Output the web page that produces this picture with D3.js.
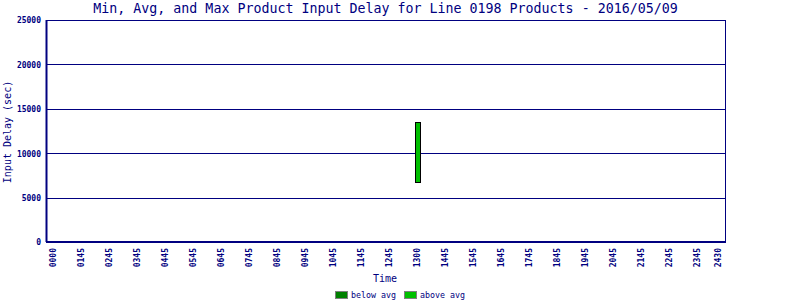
<!DOCTYPE html>
<html>
<head>
<meta charset="utf-8">
<script src="https://cdn.jsdelivr.net/npm/d3@7"></script>
<style>
  body { margin: 0; background: #fff; }
  text { font-family: "DejaVu Sans Mono", "Liberation Mono", monospace; fill: #000080; }
</style>
</head>
<body>
<svg width="800" height="300"></svg>
<script>
// tick labels along the time axis and their slot positions
const xTickLabels = ["0000", "0145", "0245", "0345", "0445", "0545", "0645", "0745", "0845",
    "0945", "1045", "1145", "1245", "1300", "1445", "1545", "1645", "1745", "1845",
    "1945", "2045", "2145", "2245", "2345", "2430"];
const xTickSlots = [0, 1, 2, 3, 4, 5, 6, 7, 8, 9, 10, 11, 12, 13, 14, 15, 16, 17, 18,
    19, 20, 21, 22, 23, 23.75];

const yTicks = [0, 5000, 10000, 15000, 20000, 25000];

// one product group recorded that day
const barSlots = [13];
const minDelay = [6700];
const avgDelay = [6700];
const maxDelay = [13500];

const svg = d3.select("svg"),
    margin = {top: 20, right: 75, bottom: 58, left: 46},
    width = +svg.attr("width") - margin.left - margin.right,
    height = +svg.attr("height") - margin.top - margin.bottom;

const navy = "#000080";

const x = d3.scaleLinear().domain([-0.25, 24]).range([0, width]);
const y = d3.scaleLinear().domain([0, 25000]).range([height, 0]);

const g = svg.append("g").attr("transform", `translate(${margin.left},${margin.top})`);

// title
svg.append("text")
    .attr("x", margin.left + width / 2)
    .attr("y", 13)
    .attr("text-anchor", "middle")
    .style("font-size", "13.3px")
    .text("Min, Avg, and Max Product Input Delay for Line 0198 Products - 2016/05/09");

// grid lines
g.append("g")
    .selectAll("line")
    .data(yTicks.filter(d => d > 0 && d < 25000))
    .enter().append("line")
    .attr("x1", 0)
    .attr("x2", width)
    .attr("y1", d => Math.round(y(d)) + 0.5)
    .attr("y2", d => Math.round(y(d)) + 0.5)
    .attr("stroke", navy)
    .attr("stroke-width", 1);

// bars: below avg part and above avg part
const bars = g.append("g");
barSlots.forEach((s, i) => {
    const cx = Math.round(x(s)) + 1;
    bars.append("rect")
        .attr("x", cx - 2.5)
        .attr("width", 5)
        .attr("y", Math.round(y(avgDelay[i])) + 0.5)
        .attr("height", Math.max(0, y(minDelay[i]) - y(avgDelay[i])))
        .attr("fill", "#008000")
        .attr("stroke", "#000")
        .attr("stroke-width", 1);
    bars.append("rect")
        .attr("x", cx - 2.5)
        .attr("width", 5)
        .attr("y", Math.round(y(maxDelay[i])) + 0.5)
        .attr("height", Math.round(y(avgDelay[i]) - y(maxDelay[i])))
        .attr("fill", "#00c000")
        .attr("stroke", "#000")
        .attr("stroke-width", 1);
});

// frame
g.append("rect")
    .attr("x", 0.5)
    .attr("y", 0.5)
    .attr("width", width)
    .attr("height", height)
    .attr("fill", "none")
    .attr("stroke", navy)
    .attr("stroke-width", 1);
g.append("line")
    .attr("x1", 0).attr("x2", width)
    .attr("y1", height).attr("y2", height)
    .attr("stroke", navy).attr("stroke-width", 2);
g.append("line")
    .attr("x1", 0.5).attr("x2", 0.5)
    .attr("y1", 0).attr("y2", height)
    .attr("stroke", navy).attr("stroke-width", 2);

// y axis
const yAxis = g.append("g")
    .call(d3.axisLeft(y).tickValues(yTicks).tickSize(0).tickPadding(5).tickFormat(d3.format("d")));
yAxis.select(".domain").remove();
yAxis.selectAll("text")
    .style("font-size", "8px")
    .style("font-weight", "bold")
    .attr("fill", navy)
    .attr("dy", "0.35em");

// x axis
const xAxis = g.append("g")
    .attr("transform", `translate(0,${height})`)
    .call(d3.axisBottom(x).tickValues(xTickSlots).tickSize(0)
        .tickFormat((d, i) => xTickLabels[i]));
xAxis.select(".domain").remove();
xAxis.selectAll("text")
    .style("font-size", "8px")
    .style("font-weight", "bold")
    .attr("fill", navy)
    .attr("transform", "rotate(-90)")
    .attr("text-anchor", "end")
    .attr("x", -6)
    .attr("y", 0)
    .attr("dy", "0.35em");

// axis titles
svg.append("text")
    .attr("transform", `translate(11,132) rotate(-90)`)
    .attr("text-anchor", "middle")
    .style("font-size", "10px")
    .text("Input Delay (sec)");

svg.append("text")
    .attr("x", 385)
    .attr("y", 282)
    .attr("text-anchor", "middle")
    .style("font-size", "10px")
    .text("Time");

// legend
const legendItems = [["below avg", "#008000"], ["above avg", "#00c000"]];
const legend = svg.append("g").attr("transform", "translate(335,291)");
legendItems.forEach((d, i) => {
    const lg = legend.append("g").attr("transform", `translate(${i * 69},0)`);
    lg.append("rect")
        .attr("x", 0.5).attr("y", 0.5)
        .attr("width", 12).attr("height", 7)
        .attr("fill", d[1])
        .attr("stroke", "#808080");
    lg.append("text")
        .attr("x", 16)
        .attr("y", 7)
        .style("font-size", "8.3px")
        .text(d[0]);
});
</script>
</body>
</html>
